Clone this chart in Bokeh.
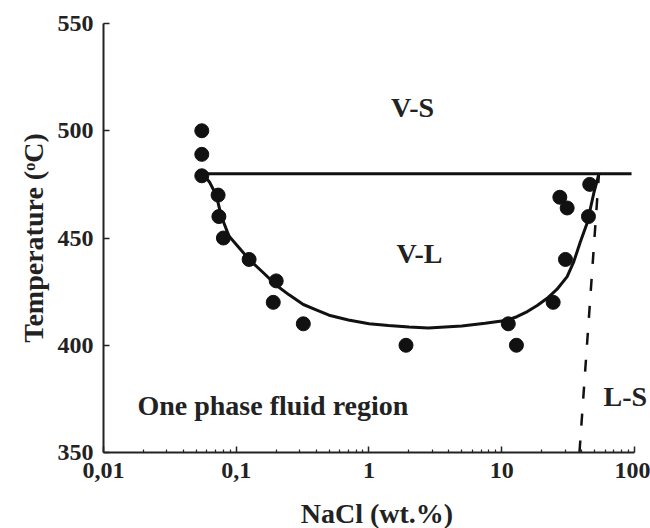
from bokeh.plotting import figure
from bokeh.models import FixedTicker, Label
from bokeh.embed import file_html
from bokeh.resources import INLINE

# ---- data ----
pts_nacl = [0.055, 0.055, 0.055, 0.073, 0.074, 0.08, 0.125, 0.2, 0.19, 0.32, 1.9,
            11.2, 12.9, 24.4, 30.2, 27.4, 31.1, 45.0, 46.0]
pts_temp = [500, 489, 479, 470, 460, 450, 440, 430, 420, 410, 400,
            410, 400, 420, 440, 469, 464, 460, 475]

curve_nacl = [0.056, 0.063, 0.0707, 0.0773, 0.088, 0.1, 0.125, 0.16, 0.2, 0.25, 0.32,
              0.4, 0.5, 0.7, 1.0, 1.4, 2.0, 2.8, 5.0, 7.5, 11.0, 13.0, 15.6, 18.5,
              22.0, 26.0, 31.1, 34.9, 39.0, 44.0, 49.4, 54.0]
curve_temp = [480, 476, 470, 460, 451, 447, 440, 433.8, 428, 423.5, 419,
              416.5, 414, 411.8, 410, 409.2, 408.5, 408, 409, 410.3, 411.7, 413.3, 415.7, 418.5,
              421.9, 426, 432, 439, 448, 457, 471, 480]

vs_line_nacl = [0.056, 95.0]
vs_line_temp = [480, 480]

ls_line_nacl = [38.5, 54.0]
ls_line_temp = [350, 480]

x_ticks = [0.01, 0.1, 1, 10, 100]
x_tick_labels = ["0,01", "0,1", "1", "10", "100"]
y_ticks = [350, 400, 450, 500, 550]

region_labels = ["V-S", "V-L", "One phase fluid region", "L-S"]
region_x = [2.13, 2.4, 0.018, 58.4]
region_y = [511, 443, 372, 376]
region_align = ["center", "center", "left", "left"]

FONT = "Liberation Serif"

p = figure(width=650, height=528, frame_width=547, frame_height=429,
           x_axis_type="log", x_range=(0.01, 132), y_range=(350, 550),
           output_backend="svg", toolbar_location=None,
           min_border_left=103, min_border_right=0, min_border_top=23, min_border_bottom=76)
p.outline_line_color = None
p.xgrid.visible = False
p.ygrid.visible = False
p.background_fill_color = "white"

minor = [m * 10.0 ** e for e in range(-2, 2) for m in range(2, 10)]
p.xaxis.ticker = FixedTicker(ticks=x_ticks, minor_ticks=minor)
p.xaxis.major_label_overrides = {t: l for t, l in zip(x_ticks, x_tick_labels)}
p.xaxis.bounds = (0.01, 100)
p.yaxis.ticker = FixedTicker(ticks=y_ticks)

for ax in (p.xaxis[0], p.yaxis[0]):
    ax.axis_line_width = 2
    ax.axis_line_color = "#222222"
    ax.major_tick_line_color = "#222222"
    ax.major_tick_line_width = 1.5
    ax.major_tick_in = 6
    ax.major_tick_out = 0
    ax.minor_tick_in = 3
    ax.minor_tick_out = 0
    ax.minor_tick_line_color = "#222222"
    ax.minor_tick_line_width = 1.2
    ax.major_label_text_font = FONT
    ax.major_label_text_font_style = "bold"
    ax.major_label_text_font_size = "24px"
    ax.major_label_text_color = "#222222"
    ax.axis_label_text_font = FONT
    ax.axis_label_text_font_style = "bold"
    ax.axis_label_text_font_size = "28px"
    ax.axis_label_text_color = "#222222"

p.yaxis.minor_tick_line_color = None
p.xaxis.major_label_standoff = 10
p.yaxis.major_label_standoff = 10
p.xaxis.axis_label = "NaCl (wt.%)"
p.yaxis.axis_label = "Temperature (\u1d52C)"
p.xaxis.axis_label_standoff = 17
p.yaxis.axis_label_standoff = 6

p.line(vs_line_nacl, vs_line_temp, line_color="#111111", line_width=3)
p.line(curve_nacl, curve_temp, line_color="#111111", line_width=3)
p.line(ls_line_nacl, ls_line_temp, line_color="#111111", line_width=2.5, line_dash="12 15")
p.scatter(pts_nacl, pts_temp, size=14, fill_color="#111111", line_color="#111111")

for txt, x, y, al in zip(region_labels, region_x, region_y, region_align):
    p.add_layout(Label(x=x, y=y, text=txt, text_align=al, text_baseline="alphabetic",
                       text_font=FONT, text_font_style="bold", text_font_size="28px",
                       text_color="#222222"))

open("out.html", "w").write(file_html(p, INLINE))
